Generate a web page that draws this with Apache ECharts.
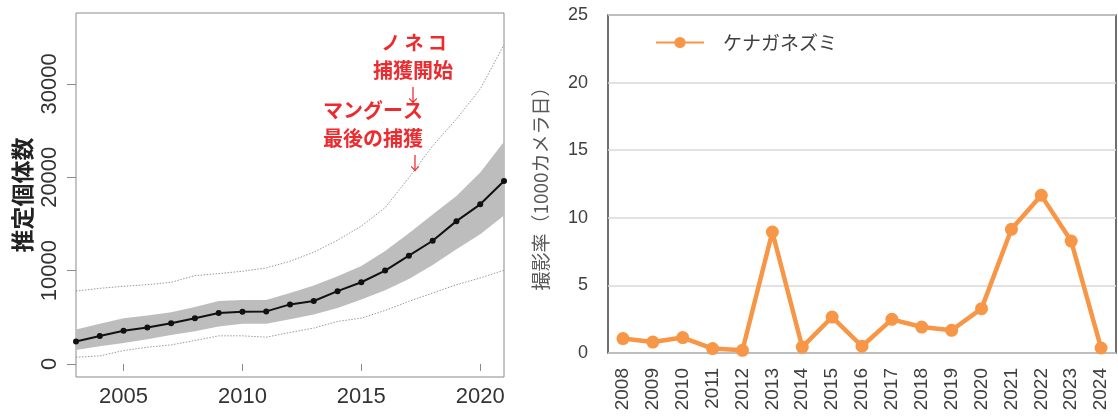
<!DOCTYPE html>
<html>
<head>
<meta charset="utf-8">
<script src="https://cdn.jsdelivr.net/npm/echarts@6/dist/echarts.min.js"></script>
<style>
  html, body { margin: 0; padding: 0; background: #fff; }
  #main { width: 1118px; height: 417px; }
</style>
</head>
<body>
<div id="main"></div>
<script>
// left panel: estimated population 2003-2021
const years = ['2003', '2004', '2005', '2006', '2007', '2008', '2009', '2010', '2011', '2012',
  '2013', '2014', '2015', '2016', '2017', '2018', '2019', '2020', '2021']
const meanEst = [2400, 3000, 3550, 3900, 4370, 4900, 5450, 5600, 5630, 6380,
  6740, 7800, 8750, 10000, 11600, 13200, 15300, 17100, 19600]
const bandLow = [1500, 1900, 2250, 2650, 3100, 3500, 4000, 4300, 4300, 4800,
  5300, 6000, 6900, 7900, 9100, 10600, 12300, 13900, 15900]
const bandHigh = [3700, 4300, 4900, 5200, 5550, 6100, 6750, 6850, 6850, 7600,
  8400, 9400, 10500, 12100, 14000, 16000, 18000, 20500, 23800]
const dotHigh = [7810, 8100, 8320, 8490, 8750, 9460, 9680, 9930, 10290, 11000,
  11970, 13260, 14770, 16740, 19960, 23370, 26240, 29460, 34200]
const dotLow = [720, 860, 1430, 1790, 2040, 2510, 3010, 3010, 2870, 3370,
  3840, 4550, 4910, 5730, 6700, 7600, 8490, 9210, 10040]
const popTicks = [0, 10000, 20000, 30000]

// right panel: camera capture rate
const camYears = ['2008', '2009', '2010', '2011', '2012', '2013', '2014', '2015', '2016',
  '2017', '2018', '2019', '2020', '2021', '2022', '2023', '2024']
const rate = [1.07, 0.81, 1.14, 0.33, 0.2, 8.95, 0.44, 2.66, 0.5,
  2.49, 1.92, 1.68, 3.28, 9.15, 11.66, 8.28, 0.37]

const bandSpan = bandHigh.map((v, i) => v - bandLow[i])
const showFive = (idx, val) => Number(val) % 5 === 0

const jp = '"Noto Sans CJK JP", sans-serif'
const latin = '"Liberation Sans", Arial, sans-serif'
const red = '#ee2a2e'

const chart = echarts.init(document.getElementById('main'))

chart.setOption({
  animation: false,
  backgroundColor: '#fff',
  grid: [
    { left: 76, top: 13, width: 428, height: 364, show: true, borderColor: '#8a8a8a', borderWidth: 1 },
    { left: 608, top: 15, width: 508, height: 338, show: true, borderColor: '#404040', borderWidth: 1.5 }
  ],
  xAxis: [
    {
      type: 'category',
      gridIndex: 0,
      data: years,
      boundaryGap: false,
      axisLine: { show: false },
      axisTick: { show: true, interval: showFive, length: 7, lineStyle: { color: '#8a8a8a' } },
      axisLabel: { interval: showFive, margin: 9, fontSize: 22, color: '#333', fontFamily: latin },
      splitLine: { show: false }
    },
    {
      type: 'category',
      gridIndex: 1,
      data: camYears,
      boundaryGap: true,
      axisLine: { show: false },
      axisTick: { show: false },
      axisLabel: { rotate: 90, margin: 15, fontSize: 19, color: '#404040', fontFamily: latin }
    }
  ],
  yAxis: [
    {
      type: 'value',
      gridIndex: 0,
      min: -1400,
      max: 37600,
      name: '推定個体数',
      nameLocation: 'middle',
      nameGap: 42,
      nameTextStyle: { fontSize: 23, color: '#222', fontFamily: jp, fontWeight: 'bold' },
      axisLine: { show: false },
      axisTick: { show: true, customValues: popTicks, length: 9, lineStyle: { color: '#8a8a8a' } },
      axisLabel: {
        customValues: popTicks,
        rotate: 90,
        margin: 15,
        fontSize: 22,
        color: '#333',
        fontFamily: latin,
        formatter: (v) => String(v)
      },
      splitLine: { show: false }
    },
    {
      type: 'value',
      gridIndex: 1,
      min: 0,
      max: 25,
      interval: 5,
      name: '撮影率（1000カメラ日）',
      nameLocation: 'middle',
      nameGap: 58,
      nameTextStyle: { fontSize: 19, color: '#595959', fontFamily: jp },
      axisLine: { show: false },
      axisTick: { show: false },
      axisLabel: { margin: 20, fontSize: 18, color: '#404040', fontFamily: latin },
      splitLine: { lineStyle: { color: '#d9d9d9', width: 1.5 } }
    }
  ],
  legend: {
    left: 650,
    top: 28,
    itemWidth: 48,
    itemHeight: 14,
    data: ['ケナガネズミ'],
    textStyle: { fontSize: 19, color: '#404040', fontFamily: jp, padding: [0, 0, 0, 14] }
  },
  series: [
    {
      name: 'bandBase',
      type: 'line',
      xAxisIndex: 0,
      yAxisIndex: 0,
      data: bandLow,
      stack: 'ci',
      symbol: 'none',
      lineStyle: { width: 0, opacity: 0 },
      silent: true
    },
    {
      name: 'bandFill',
      type: 'line',
      xAxisIndex: 0,
      yAxisIndex: 0,
      data: bandSpan,
      stack: 'ci',
      symbol: 'none',
      lineStyle: { width: 0, opacity: 0 },
      areaStyle: { color: '#bdbdbd', opacity: 1 },
      silent: true
    },
    {
      name: 'dotHigh',
      type: 'line',
      xAxisIndex: 0,
      yAxisIndex: 0,
      data: dotHigh,
      symbol: 'none',
      lineStyle: { color: '#9a9a9a', width: 1, type: [1.5, 1.5] }
    },
    {
      name: 'dotLow',
      type: 'line',
      xAxisIndex: 0,
      yAxisIndex: 0,
      data: dotLow,
      symbol: 'none',
      lineStyle: { color: '#9a9a9a', width: 1, type: [1.5, 1.5] }
    },
    {
      name: 'mean',
      type: 'line',
      xAxisIndex: 0,
      yAxisIndex: 0,
      data: meanEst,
      symbol: 'circle',
      symbolSize: 6,
      itemStyle: { color: '#111' },
      lineStyle: { color: '#111', width: 2 }
    },
    {
      name: 'ケナガネズミ',
      type: 'line',
      xAxisIndex: 1,
      yAxisIndex: 1,
      data: rate,
      symbol: 'circle',
      symbolSize: 13,
      itemStyle: { color: '#f79646' },
      lineStyle: { color: '#f79646', width: 4.5 }
    }
  ],
  graphic: [
    { type: 'text', x: 414, y: 43, style: { text: 'ノ ネ コ', font: 'bold 19px ' + jp, fill: red, align: 'center', verticalAlign: 'middle' } },
    { type: 'text', x: 413, y: 70, style: { text: '捕獲開始', font: 'bold 20px ' + jp, fill: red, align: 'center', verticalAlign: 'middle' } },
    { type: 'text', x: 413, y: 95, style: { text: '↓', font: '18px ' + jp, fill: red, align: 'center', verticalAlign: 'middle' } },
    { type: 'text', x: 373, y: 110, style: { text: 'マングース', font: 'bold 20px ' + jp, fill: red, align: 'center', verticalAlign: 'middle' } },
    { type: 'text', x: 373, y: 138, style: { text: '最後の捕獲', font: 'bold 20px ' + jp, fill: red, align: 'center', verticalAlign: 'middle' } },
    { type: 'text', x: 415, y: 163, style: { text: '↓', font: '18px ' + jp, fill: red, align: 'center', verticalAlign: 'middle' } }
  ]
})
</script>
</body>
</html>
